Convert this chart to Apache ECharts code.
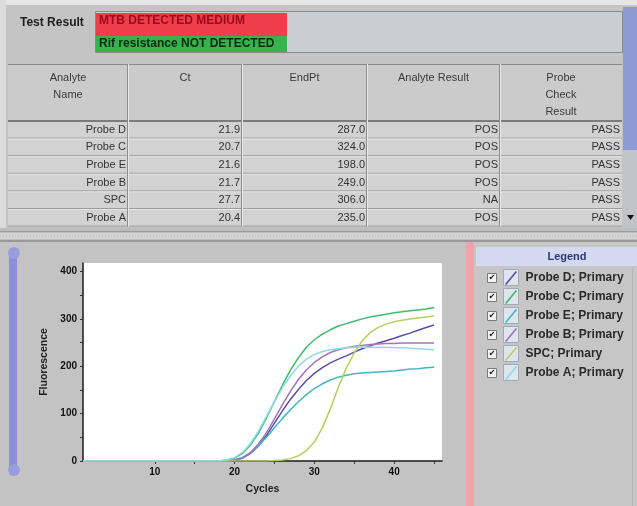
<!DOCTYPE html>
<html><head><meta charset="utf-8">
<script src="https://cdn.jsdelivr.net/npm/echarts@6/dist/echarts.min.js"></script>
<style>html,body{margin:0;padding:0;background:#c4c4c4}#c{width:637px;height:506px}</style>
</head><body><div id="c"></div><script>
// ---------- data ----------
const cycles = [1,2,3,4,5,6,7,8,9,10,11,12,13,14,15,16,17,18,19,20,21,22,23,24,25,26,27,28,29,30,31,32,33,34,35,36,37,38,39,40,41,42,43,44,45];
const probeD = [0,0,0,0,0,0,0,0,0,0,0,0,0,0,0,0,0,0, 0,2,6,16,32,54,80,106,130,151,170,185,197,207,215,222,230,237,243,249,254,259,265,270,276,282,287];
const probeC = [0,0,0,0,0,0,0,0,0,0,0,0,0,0,0,0,0,0, 2,6,16,34,59,91,126,160,192,218,240,256,268,277,285,290,295,300,304,307,310,313,315,317,319,321,324];
const probeE = [0,0,0,0,0,0,0,0,0,0,0,0,0,0,0,0,0,0, 0,2,7,17,32,50,70,90,108,125,140,153,163,171,177,181,184,186,187,188,189,190,192,194,195,197,198];
const probeB = [0,0,0,0,0,0,0,0,0,0,0,0,0,0,0,0,0,0, 0,2,7,18,36,60,89,119,147,172,192,208,220,229,235,239,242,244,246,247,248,248,249,249,249,249,249];
const spc    = [0,0,0,0,0,0,0,0,0,0,0,0,0,0,0,0,0,0, 0,0,0,0,0,0,1,2,5,11,22,40,70,110,155,196,228,254,271,282,289,294,297,300,302,304,306];
const probeA = [0,0,0,0,0,0,0,0,0,0,0,0,0,0,0,0,0,0, 2,7,18,37,63,94,125,155,180,200,215,225,231,235,237,239,240,240,240,240,240,239,239,238,237,236,235];

const seriesNames = ['Probe D; Primary','Probe C; Primary','Probe E; Primary','Probe B; Primary','SPC; Primary','Probe A; Primary'];
const analyteNames = ['Probe D','Probe C','Probe E','Probe B','SPC','Probe A'];
const ctValues = ['21.9','20.7','21.6','21.7','27.7','20.4'];
const endPtValues = ['287.0','324.0','198.0','249.0','306.0','235.0'];
const analyteResults = ['POS','POS','POS','POS','NA','POS'];
const probeCheckResults = ['PASS','PASS','PASS','PASS','PASS','PASS'];
const tableHeaders = [['Analyte','Name'],['Ct'],['EndPt'],['Analyte Result'],['Probe','Check','Result']];
const testResultLabel = 'Test Result';
const testResultLines = ['MTB DETECTED MEDIUM','Rif resistance NOT DETECTED'];
const legendTitle = 'Legend';
const xAxisName = 'Cycles';
const yAxisName = 'Fluorescence';
const xTickLabels = [10,20,30,40];
const xTicks = [10,15,20,25,30,35,40,45];
const yTickLabels = [0,100,200,300,400];
const yTicks = [0,50,100,150,200,250,300,350,400];

// ---------- styling ----------
const FONT = '"Liberation Sans", Arial, sans-serif';
const lineColors = ['#5a4fa6','#3dbb6e','#3fb6c2','#a273bb','#b6cf5c','#8fd9e6'];
const seriesData = [probeD, probeC, probeE, probeB, spc, probeA];

const g = [];
function rect(x,y,w,h,fill,stroke,extra){ g.push(Object.assign({type:'rect',z:-10,silent:true,shape:{x:x,y:y,width:w,height:h},style:{fill:fill,stroke:stroke||null,lineWidth:1}},extra||{})); }
function line(x1,y1,x2,y2,color,w,dash){ g.push({type:'line',z:-9,silent:true,shape:{x1:x1,y1:y1,x2:x2,y2:y2},style:{stroke:color,lineWidth:w||1,lineDash:dash||null}}); }
function text(x,y,str,opt){ g.push({type:'text',z:-8,silent:true,x:x,y:y,style:Object.assign({text:str,fill:'#333',font:'11px '+FONT,textAlign:'left',textVerticalAlign:'middle'},opt||{})}); }

// base
rect(0,0,637,506,'#c4c4c4');
rect(0,0,637,5,'#e6e6e6');
rect(0,0,6,228,'#dcdcdc');
// test result
text(20,23,testResultLabel,{font:'bold 12px '+FONT,fill:'#1e1e1e'});
rect(95.5,11.5,527,41,'#cacdd3','#8a8a8a');
rect(96,13,191,23,'#ee3e4c');
rect(96,36,191,16,'#33b44c');
text(99,21,testResultLines[0],{font:'bold 12px '+FONT,fill:'#9a0a1c'});
text(99,44,testResultLines[1],{font:'bold 12px '+FONT,fill:'#0d2a10'});
// table
const colX = [8,128,242,367,500,622];
const headTop = 64, headBot = 121, rowH = 17.6;
rect(8,headTop,614,headBot-headTop,'#cbcbcb');
for (let i=0;i<analyteNames.length;i++){
  const y0 = headBot + i*rowH;
  rect(8,y0,614,rowH,'#d2d2d2');
  line(8,y0+rowH-0.5,622,y0+rowH-0.5,'#9c9c9c',1);
  line(8,y0+0.5,622,y0+0.5,'#e6e6e6',1);
}
line(8,headTop+0.5,622,headTop+0.5,'#8a8a8a',1);
line(8,headBot,622,headBot,'#7c7c7c',2);
for (let c=1;c<colX.length-1;c++){
  line(colX[c]-0.5,headTop,colX[c]-0.5,headBot+6*rowH,'#8e8e8e',1);
  line(colX[c]+0.5,headTop,colX[c]+0.5,headBot+6*rowH,'#e8e8e8',1);
}
tableHeaders.forEach((lines,c)=>{
  const cx = (colX[c]+colX[c+1])/2;
  lines.forEach((s,k)=>text(cx,78+k*17,s,{textAlign:'center',fill:'#3a3a3a'}));
});
const cols = [analyteNames, ctValues, endPtValues, analyteResults, probeCheckResults];
cols.forEach((arr,c)=>{
  arr.forEach((s,i)=>text(colX[c+1]-2, headBot + i*rowH + rowH/2, s, {textAlign:'right',fill:'#333'}));
});
// right scrollbar
rect(623,7,14,143,'#8e9ad4');
rect(623,150,14,78,'#c2c3ca');
g.push({type:'polygon',z:-8,silent:true,shape:{points:[[627,215],[634,215],[630.5,220]]},style:{fill:'#111'}});
// separator
rect(0,228,637,14,'#bdbdbd');
line(0,231.5,637,231.5,'#9c9c9c',1);
rect(0,233,637,6,'#d3d3d3');
line(0,236,637,236,'#b0b0b0',1,[1,2]);
line(0,241,637,241,'#8e8e8e',1.5);
// bottom-left panel
rect(0,242,466,264,'#c3c3c3');
rect(9,253,8,217,'#8d8fd8',null,{shape:{x:9,y:253,width:8,height:217,r:3}});
g.push({type:'circle',z:-9,silent:true,shape:{cx:14,cy:253,r:6},style:{fill:'#9a9ce0'}});
g.push({type:'circle',z:-9,silent:true,shape:{cx:14,cy:470,r:6},style:{fill:'#9a9ce0'}});
// pink strip & legend panel
rect(466,242,8,264,'#f3a2aa');
rect(474,242,163,264,'#c6c6c6');
rect(476,247,161,19,'#d4d8f0');
text(567,257,legendTitle,{font:'bold 11px '+FONT,fill:'#2b3a73',textAlign:'center'});
line(632.5,267,632.5,506,'#b4b4b4',1);
seriesNames.forEach((s,i)=>{
  const y = 273 + i*19;
  rect(487.5,y+0.5,9,9,'#f2f2f2','#7a7a7a');
  text(492,y+5,'\u2714',{font:'bold 8px "DejaVu Sans"',fill:'#111',textAlign:'center'});
  rect(503.5,y-3.5,15,16,'#dfe5ec','#a0aab8');
});

const option = {
  animation:false,
  textStyle:{fontFamily:FONT},
  graphic:{elements:g},
  grid:{left:83, top:263, width:359, height:198, show:true, backgroundColor:'#ffffff', borderWidth:0},
  legend:{orient:'vertical', left:505, top:271, padding:0, itemWidth:13, itemHeight:14, itemGap:5, selectedMode:false,
    icon:'path://M1,13L11,1L12.2,2L2.2,14Z',
    textStyle:{fontSize:12, fontWeight:'bold', color:'#2a2a2a', padding:[1,0,0,3]},
    data:seriesNames},
  xAxis:{type:'value', min:1, max:46, splitLine:{show:false},
    axisLine:{lineStyle:{color:'#1a1a1a', width:1.5}},
    axisTick:{customValues:xTicks, length:3, lineStyle:{color:'#333'}},
    axisLabel:{customValues:xTickLabels, fontSize:10, fontWeight:'bold', color:'#111', margin:6},
    name:xAxisName, nameLocation:'middle', nameGap:23,
    nameTextStyle:{fontSize:10.5, fontWeight:'bold', color:'#222'}},
  yAxis:{type:'value', min:0, max:418, splitLine:{show:false},
    axisLine:{show:true, lineStyle:{color:'#1a1a1a', width:1.5}},
    axisTick:{show:true, customValues:yTicks, length:3, lineStyle:{color:'#333'}},
    axisLabel:{customValues:yTickLabels, fontSize:10, fontWeight:'bold', color:'#111', margin:6},
    name:yAxisName, nameLocation:'middle', nameGap:33, nameRotate:90,
    nameTextStyle:{fontSize:10.5, fontWeight:'bold', color:'#222'}},
  series: seriesNames.map((n,k)=>({
    name:n, type:'line', showSymbol:false, symbol:'none',
    color:lineColors[k], lineStyle:{width:1.5, color:lineColors[k]},
    data: cycles.map((c,i)=>[c, seriesData[k][i]])
  }))
};
const chart = echarts.init(document.getElementById('c'), null, {renderer:'canvas'});
chart.setOption(option);
</script></body></html>
